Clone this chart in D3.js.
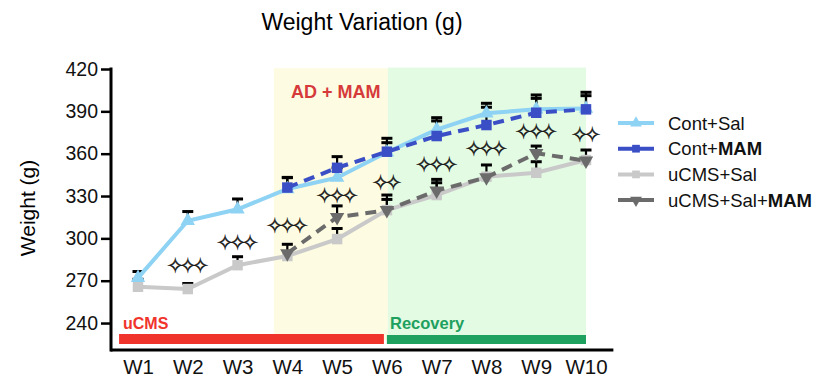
<!DOCTYPE html>
<html><head><meta charset="utf-8">
<script src="https://cdn.jsdelivr.net/npm/d3@7"></script>
<style>body{margin:0;background:#fff}svg{display:block}</style>
</head><body><svg id="c" width="819" height="381"></svg>
<script>
const weeks = [1,2,3,4,5,6,7,8,9,10];
const weekLabels = ["W1","W2","W3","W4","W5","W6","W7","W8","W9","W10"];
const yTicks = [240,270,300,330,360,390,420];

const contSal      = [272,312.5,320.6,335,343,361,377,388.6,391.4,392];
const contSalErr   = [276.5,319,327.9,343,350,367.8,383.2,392.9,399.2,401.1];
const contMam      = [null,null,null,336,350,361.4,372.5,380.3,389,391.4];
const contMamErr   = [null,null,null,343.2,357.9,370.9,385.5,395.7,401.6,403.5];
const ucmsSal      = [265.7,264.1,281,287.5,299.5,320,330.7,343.7,346.5,355.5];
const ucmsSalErr   = [271,268,287,287.5,307,327.6,339.4,343.7,354.3,355.5];
const ucmsMam      = [null,null,null,289.4,315,320,333.8,343.2,360.3,355];
const ucmsMamErr   = [null,null,null,295.8,323,330.7,341.8,352,365.4,362.6];

const starWeeks  = [2,3,4,5,6,7,8,9,10];
const starLabels = ["✧✧✧","✧✧✧","✧✧✧","✧✧✧","✧✧","✧✧✧","✧✧✧","✧✧✧","✧✧"];
const starValues = [280.4,296.7,308.7,330,339.2,352,363.3,375.4,373.2];

const seriesNames = ["Cont+Sal","Cont+MAM","uCMS+Sal","uCMS+Sal+MAM"];

const svg = d3.select("#c");
const x = d3.scaleLinear().domain([1,10]).range([138,586]);
const y = d3.scaleLinear().domain([220.9,420]).range([350,69]);

// phase backgrounds
svg.append("rect").attr("x",x(3.73)).attr("width",x(6.02)-x(3.73))
  .attr("y",y(420.5)).attr("height",y(228)-y(420.5)).attr("fill","#fdfbe1");
svg.append("rect").attr("x",x(6.02)).attr("width",x(10)-x(6.02))
  .attr("y",y(421)).attr("height",y(228)-y(421)).attr("fill","#e3fae3");
// phase bars
svg.append("rect").attr("x",x(0.62)).attr("width",x(5.94)-x(0.62))
  .attr("y",334).attr("height",10).attr("fill","#f0342c");
svg.append("rect").attr("x",x(6.0)).attr("width",x(10)-x(6.0))
  .attr("y",335).attr("height",9).attr("fill","#1ea05e");
svg.append("text").attr("x",123).attr("y",329).text("uCMS")
  .attr("font-family","Liberation Sans, Arial").attr("font-weight","bold").attr("font-size",16).attr("fill","#f0342c");
svg.append("text").attr("x",390).attr("y",329).text("Recovery")
  .attr("font-family","Liberation Sans, Arial").attr("font-weight","bold").attr("font-size",16.5).attr("fill","#1ea05e");
svg.append("text").attr("x",291).attr("y",98).text("AD + MAM")
  .attr("font-family","Liberation Sans, Arial").attr("font-weight","bold").attr("font-size",18).attr("fill","#d63a3a");

// title
svg.append("text").attr("x",362).attr("y",30).attr("text-anchor","middle")
  .attr("font-family","Liberation Sans, Arial").attr("font-size",23).text("Weight Variation (g)");
svg.append("text").attr("transform","translate(35,208) rotate(-90)").attr("text-anchor","middle")
  .attr("font-family","Liberation Sans, Arial").attr("font-size",21).text("Weight (g)");

// axes
const yAxis = svg.append("g").attr("transform","translate(111,0)")
  .call(d3.axisLeft(y).tickValues(yTicks).tickSize(10).tickSizeOuter(0).tickPadding(3));
yAxis.select(".domain").attr("stroke-width",3).attr("d","M0,67.5V351.5");
yAxis.selectAll(".tick line").attr("stroke-width",2.5);
yAxis.selectAll("text").attr("font-family","Liberation Sans, Arial").attr("font-size",19.5).attr("fill","#111");
const xAxis = svg.append("g").attr("transform","translate(0,350)")
  .call(d3.axisBottom(x).tickValues(weeks).tickFormat((d,i)=>weekLabels[i]).tickSize(0).tickSizeOuter(0).tickPadding(9));
xAxis.select(".domain").attr("stroke-width",3).attr("d",`M${x(0.45)},0H${x(10.55)}`);
xAxis.selectAll("text").attr("font-family","Liberation Sans, Arial").attr("font-size",20.5).attr("dy","0.75em").attr("fill","#111");

// error bars
function errBars(vals, errs){
  const g = svg.append("g");
  weeks.forEach((w,i)=>{
    if(vals[i]==null || errs[i]==null || errs[i]<=vals[i]) return;
    g.append("line").attr("x1",x(w)).attr("x2",x(w)).attr("y1",y(vals[i])).attr("y2",y(errs[i]))
      .attr("stroke","#000").attr("stroke-width",2.2);
    g.append("line").attr("x1",x(w)-5.5).attr("x2",x(w)+5.5).attr("y1",y(errs[i])).attr("y2",y(errs[i]))
      .attr("stroke","#000").attr("stroke-width",3);
  });
}
errBars(ucmsSal, ucmsSalErr);
errBars(ucmsMam, ucmsMamErr);
errBars(contSal, contSalErr);
errBars(contMam, contMamErr);

function series(vals, color, dash, symbol, size, rot){
  const pts = weeks.map((w,i)=>({w,v:vals[i]})).filter(d=>d.v!=null);
  const line = d3.line().x(d=>x(d.w)).y(d=>y(d.v));
  svg.append("path").datum(pts).attr("d",line).attr("fill","none").attr("stroke",color)
    .attr("stroke-width",4).attr("stroke-dasharray",dash);
  svg.append("g").selectAll("path").data(pts).join("path")
    .attr("transform",d=>`translate(${x(d.w)},${y(d.v)}) rotate(${rot})`)
    .attr("d",d3.symbol(symbol,size)).attr("fill",color);
}
series(ucmsSal,"#c9c9c9",null,d3.symbolSquare,110,0);
series(ucmsMam,"#6b6b6b","11,7",d3.symbolTriangle,90,180);
series(contSal,"#8ed2f4",null,d3.symbolTriangle,90,0);
series(contMam,"#3a4fc6","11,7",d3.symbolSquare,110,0);

// significance stars
svg.append("g").selectAll("text").data(starWeeks).join("text")
  .attr("x",d=>x(d)).attr("y",(d,i)=>y(starValues[i])).attr("dy","0.35em")
  .attr("text-anchor","middle").attr("font-family","DejaVu Sans").attr("font-size",21)
  .attr("letter-spacing",-5).attr("dx",-2.5)
  .attr("fill","#111").attr("stroke","#111").attr("stroke-width",0.35)
  .text((d,i)=>starLabels[i]);

// legend
const legColors = ["#8ed2f4","#3a4fc6","#c9c9c9","#6b6b6b"];
const legSym = [[d3.symbolTriangle,0],[d3.symbolSquare,0],[d3.symbolSquare,0],[d3.symbolTriangle,180]];
const lg = svg.append("g");
seriesNames.forEach((n,i)=>{
  const yy = 123 + i*25.7;
  lg.append("line").attr("x1",618).attr("x2",654).attr("y1",yy).attr("y2",yy)
    .attr("stroke",legColors[i]).attr("stroke-width",4);
  lg.append("path").attr("transform",`translate(636,${yy}) rotate(${legSym[i][1]})`)
    .attr("d",d3.symbol(legSym[i][0],60)).attr("fill",legColors[i]);
  const t = lg.append("text").attr("x",668).attr("y",yy+6.5)
    .attr("font-family","Liberation Sans, Arial").attr("font-size",18.5).attr("fill","#111");
  const parts = n.split("MAM");
  t.append("tspan").text(parts[0]);
  if(parts.length>1) t.append("tspan").attr("font-weight","bold").text("MAM");
});
</script></body></html>
